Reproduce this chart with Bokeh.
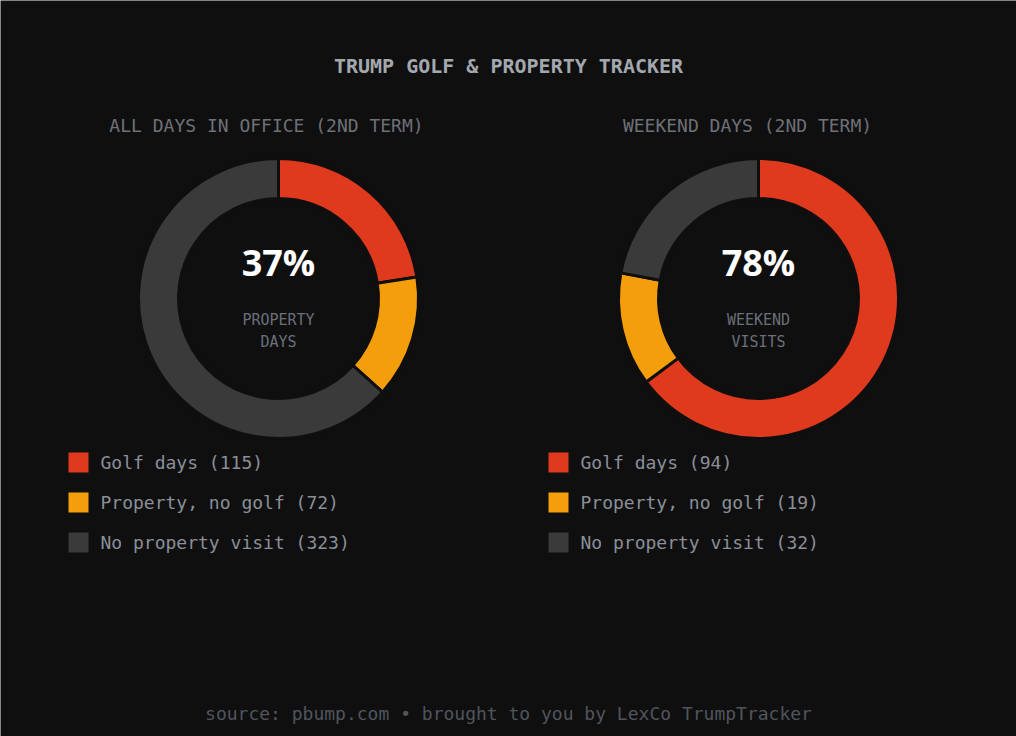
import math
from bokeh.plotting import figure
from bokeh.models import ColumnDataSource, Range1d
from bokeh.core.properties import value
from bokeh.embed import file_html
from bokeh.resources import INLINE

# ---------------- data ----------------
labels = ["Golf days", "Property, no golf", "No property visit"]
all_days = [115, 72, 323]
weekend_days = [94, 19, 32]
panel_titles = ["ALL DAYS IN OFFICE (2ND TERM)", "WEEKEND DAYS (2ND TERM)"]
center_labels = [["PROPERTY", "DAYS"], ["WEEKEND", "VISITS"]]
main_title = "TRUMP GOLF & PROPERTY TRACKER"
footer = "source: pbump.com \u2022 brought to you by LexCo TrumpTracker"

# ---------------- style ----------------
BG = "#0f0f0f"
COLORS = ["#e03a1e", "#f59e0b", "#3a3a3a"]
MONO = "DejaVu Sans Mono"
W, H = 1016, 736


def X(px):
    return px


def Y(py):
    return H - py


p = figure(width=W, height=H, output_backend="svg", toolbar_location=None,
           x_axis_type=None, y_axis_type=None, min_border=0,
           x_range=Range1d(0, W), y_range=Range1d(0, H))
p.background_fill_color = BG
p.border_fill_color = BG
p.outline_line_color = None
p.grid.visible = False

# title
p.text(x=[X(508)], y=[Y(65)], text=[main_title], text_font=value(MONO),
       text_font_size="20px", text_font_style="bold", text_color="#a3a7ae",
       text_align="center", text_baseline="middle")

# footer
p.text(x=[X(508)], y=[Y(713)], text=[footer], text_font=value(MONO),
       text_font_size="18px", text_color="#50555d",
       text_align="center", text_baseline="middle")

series = [all_days, weekend_days]
centers = [278, 758]
title_centers = [266, 747]
legend_x = [68, 548]

for i, vals in enumerate(series):
    cx, cy = X(centers[i]), Y(298)
    total = sum(vals)
    starts, ends = [], []
    cum = 0
    for v in vals:
        starts.append(math.pi / 2 - 2 * math.pi * cum / total)
        cum += v
        ends.append(math.pi / 2 - 2 * math.pi * cum / total)
    src = ColumnDataSource(dict(start=starts, end=ends, color=COLORS,
                                label=labels, val=vals))
    p.annular_wedge(x=cx, y=cy, inner_radius=100, outer_radius=140,
                    start_angle="start", end_angle="end", direction="clock",
                    fill_color="color", line_color=BG, line_width=3, source=src)

    # panel title
    p.text(x=[X(title_centers[i])], y=[Y(125)], text=[panel_titles[i]],
           text_font=value(MONO), text_font_size="18px", text_color="#6e7178",
           text_align="center", text_baseline="middle")

    # center percentage
    pct = round(100 * (vals[0] + vals[1]) / total)
    p.text(x=[cx], y=[Y(262)], text=[f"{pct}%"], text_font=value("Open Sans"),
           text_font_size="36px", text_font_style="bold", text_color="#ffffff",
           text_align="center", text_baseline="middle")
    p.text(x=[cx, cx], y=[Y(319), Y(341)], text=center_labels[i],
           text_font=value(MONO), text_font_size="15px", text_color="#6b6f7a",
           text_align="center", text_baseline="middle")

    # legend
    ys = [Y(462 + 40 * k) for k in range(len(labels))]
    p.rect(x=[X(legend_x[i] + 10)] * len(labels), y=ys, width=20, height=20,
           fill_color=COLORS, line_color=None)
    p.text(x=[X(legend_x[i] + 32)] * len(labels), y=ys,
           text=[f"{l} ({v})" for l, v in zip(labels, vals)],
           text_font=value(MONO), text_font_size="18px", text_color="#8a8f98",
           text_align="left", text_baseline="middle")

open("out.html", "w").write(file_html(p, INLINE))
